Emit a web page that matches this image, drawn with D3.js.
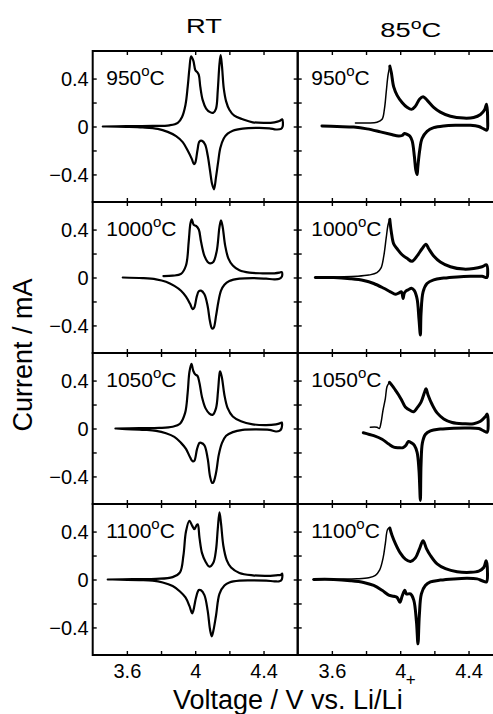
<!DOCTYPE html>
<html>
<head>
<meta charset="utf-8">
<script src="https://cdn.jsdelivr.net/npm/d3@7"></script>
<style>
  html, body { margin: 0; padding: 0; background: #fff; }
  svg { display: block; }
  text { font-family: "Liberation Sans", Arial, Helvetica, sans-serif; fill: #000; }
</style>
</head>
<body>
<svg id="chart" width="493" height="714"></svg>
<script>
// Cyclic voltammograms (current vs. voltage) for four annealing temperatures,
// measured at room temperature and at 85 °C.

const columns = ["RT", "85"];
const annealTemps = ["950", "1000", "1050", "1100"];

const voltTicks = [3.6, 3.8, 4.0, 4.2, 4.4];
const voltLabels = [3.6, 4.0, 4.4];
const currentTicks = [-0.4, -0.2, 0, 0.2, 0.4];
const currentLabels = [-0.4, 0, 0.4];

// ---- RT, 950 °C ----
const rt950Anodic = [[3.459,0],[3.595,0.003],[3.751,0.005],[3.849,0.01],[3.898,0.03],[3.923,0.08],[3.943,0.18],[3.956,0.33],[3.966,0.48],[3.976,0.585],[3.989,0.55],[4.001,0.47],[4.011,0.455],[4.021,0.43],[4.030,0.33],[4.044,0.22],[4.064,0.15],[4.087,0.12],[4.106,0.115],[4.122,0.15],[4.132,0.3],[4.142,0.52],[4.149,0.595],[4.157,0.5],[4.167,0.32],[4.181,0.21],[4.2,0.14],[4.229,0.09],[4.278,0.06],[4.337,0.035],[4.415,0.03],[4.464,0.035],[4.493,0.045],[4.509,0.06]];
const rt950Cathodic = [[4.512,0.0],[4.503,-0.02],[4.473,-0.025],[4.434,-0.015],[4.356,-0.012],[4.278,-0.018],[4.22,-0.035],[4.19,-0.06],[4.167,-0.1],[4.147,-0.18],[4.134,-0.3],[4.122,-0.42],[4.11,-0.524],[4.099,-0.48],[4.087,-0.37],[4.073,-0.24],[4.058,-0.15],[4.04,-0.12],[4.025,-0.125],[4.013,-0.2],[4.001,-0.3],[3.993,-0.315],[3.98,-0.27],[3.956,-0.2],[3.927,-0.13],[3.888,-0.08],[3.839,-0.045],[3.781,-0.02],[3.693,-0.008],[3.595,-0.003],[3.478,0]];

// ---- 85 °C, 950 °C ----
const ht950Anodic = [[3.738,0.03],[3.806,0.03],[3.864,0.035],[3.894,0.06],[3.908,0.15],[3.919,0.3],[3.929,0.43],[3.939,0.504],[3.948,0.45],[3.962,0.33],[3.982,0.26],[4.011,0.2],[4.04,0.16],[4.066,0.143],[4.089,0.17],[4.114,0.23],[4.134,0.248],[4.157,0.22],[4.196,0.16],[4.235,0.12],[4.294,0.085],[4.372,0.07],[4.43,0.075],[4.47,0.1],[4.494,0.14],[4.505,0.185]];
const ht950Cathodic = [[4.512,0.05],[4.508,-0.03],[4.489,-0.02],[4.46,0.0],[4.411,0.01],[4.333,0.01],[4.255,0.005],[4.196,-0.01],[4.157,-0.04],[4.128,-0.1],[4.114,-0.2],[4.103,-0.34],[4.099,-0.4],[4.091,-0.36],[4.083,-0.25],[4.07,-0.12],[4.056,-0.08],[4.04,-0.065],[4.025,-0.058],[4.011,-0.075],[3.991,-0.08],[3.943,-0.065],[3.884,-0.045],[3.806,-0.02],[3.728,-0.005],[3.63,0],[3.542,0.005]];

// ---- RT, 1000 °C ----
const rt1000Anodic = [[3.814,0.012],[3.868,0.015],[3.917,0.03],[3.946,0.1],[3.962,0.3],[3.972,0.45],[3.98,0.485],[3.991,0.44],[4.005,0.43],[4.021,0.4],[4.034,0.3],[4.054,0.18],[4.073,0.13],[4.087,0.118],[4.106,0.13],[4.126,0.22],[4.142,0.42],[4.151,0.476],[4.161,0.42],[4.175,0.27],[4.194,0.16],[4.22,0.1],[4.259,0.06],[4.317,0.04],[4.395,0.035],[4.464,0.035],[4.493,0.04],[4.507,0.045]];
const rt1000Cathodic = [[4.508,0.01],[4.493,-0.01],[4.464,-0.015],[4.415,-0.01],[4.337,-0.005],[4.259,-0.01],[4.2,-0.03],[4.171,-0.06],[4.151,-0.11],[4.136,-0.2],[4.122,-0.32],[4.108,-0.42],[4.099,-0.426],[4.087,-0.37],[4.073,-0.24],[4.054,-0.14],[4.034,-0.11],[4.021,-0.115],[4.009,-0.16],[3.995,-0.25],[3.985,-0.265],[3.97,-0.22],[3.946,-0.16],[3.917,-0.11],[3.878,-0.07],[3.829,-0.035],[3.771,-0.015],[3.693,-0.005],[3.576,0]];

// ---- 85 °C, 1000 °C ----
const ht1000Anodic = [[3.503,0.0],[3.63,0.005],[3.747,0.01],[3.816,0.02],[3.864,0.04],[3.888,0.08],[3.904,0.18],[3.918,0.33],[3.929,0.44],[3.939,0.485],[3.948,0.38],[3.962,0.28],[3.982,0.24],[4.011,0.19],[4.04,0.16],[4.069,0.135],[4.099,0.18],[4.128,0.24],[4.151,0.278],[4.167,0.24],[4.196,0.18],[4.235,0.13],[4.294,0.09],[4.372,0.07],[4.43,0.075],[4.479,0.09],[4.505,0.105]];
const ht1000Cathodic = [[4.512,0.03],[4.508,0.0],[4.479,0.01],[4.411,0.01],[4.333,0.005],[4.255,-0.005],[4.196,-0.02],[4.157,-0.05],[4.134,-0.12],[4.122,-0.3],[4.118,-0.48],[4.11,-0.35],[4.099,-0.18],[4.083,-0.11],[4.066,-0.09],[4.05,-0.1],[4.036,-0.11],[4.024,-0.13],[4.017,-0.175],[4.007,-0.12],[3.991,-0.13],[3.972,-0.14],[3.943,-0.12],[3.904,-0.09],[3.845,-0.05],[3.786,-0.025],[3.708,-0.01],[3.611,0],[3.503,0]];

// ---- RT, 1050 °C ----
const rt1050Anodic = [[3.533,0],[3.673,0.003],[3.79,0.005],[3.868,0.015],[3.911,0.04],[3.941,0.13],[3.956,0.3],[3.966,0.47],[3.978,0.54],[3.989,0.48],[4.001,0.45],[4.013,0.44],[4.025,0.38],[4.04,0.26],[4.06,0.17],[4.083,0.125],[4.103,0.115],[4.122,0.17],[4.134,0.32],[4.144,0.47],[4.147,0.476],[4.157,0.42],[4.171,0.28],[4.19,0.17],[4.22,0.1],[4.268,0.06],[4.337,0.035],[4.415,0.028],[4.473,0.035],[4.499,0.045],[4.507,0.05]];
const rt1050Cathodic = [[4.505,0.0],[4.493,-0.02],[4.473,-0.025],[4.434,-0.012],[4.356,-0.008],[4.278,-0.012],[4.22,-0.03],[4.181,-0.06],[4.157,-0.12],[4.138,-0.22],[4.122,-0.37],[4.106,-0.45],[4.099,-0.454],[4.087,-0.4],[4.073,-0.25],[4.054,-0.14],[4.034,-0.12],[4.025,-0.12],[4.011,-0.17],[3.995,-0.27],[3.985,-0.274],[3.97,-0.24],[3.946,-0.17],[3.917,-0.12],[3.878,-0.07],[3.829,-0.04],[3.771,-0.02],[3.712,-0.012],[3.673,-0.01],[3.595,-0.005],[3.537,0]];

// ---- 85 °C, 1050 °C ----
const ht1050Anodic = [[3.825,0.01],[3.864,0.01],[3.878,0.0],[3.888,0.05],[3.899,0.15],[3.913,0.25],[3.923,0.35],[3.937,0.385],[3.952,0.36],[3.972,0.32],[3.991,0.28],[4.011,0.23],[4.03,0.18],[4.06,0.15],[4.079,0.14],[4.103,0.18],[4.122,0.22],[4.142,0.3],[4.151,0.332],[4.163,0.28],[4.187,0.2],[4.216,0.13],[4.255,0.08],[4.304,0.05],[4.372,0.04],[4.43,0.04],[4.47,0.06],[4.499,0.1],[4.509,0.12]];
const ht1050Cathodic = [[4.515,0.03],[4.509,-0.03],[4.489,-0.02],[4.46,0.0],[4.392,0.005],[4.313,0.003],[4.235,-0.005],[4.177,-0.02],[4.147,-0.05],[4.13,-0.12],[4.122,-0.3],[4.118,-0.6],[4.11,-0.35],[4.099,-0.2],[4.083,-0.14],[4.066,-0.12],[4.048,-0.108],[4.034,-0.14],[4.017,-0.16],[3.991,-0.16],[3.962,-0.155],[3.933,-0.13],[3.894,-0.09],[3.845,-0.06],[3.784,-0.035]];

// ---- RT, 1100 °C ----
const rt1100Anodic = [[3.488,0],[3.634,0.003],[3.771,0.005],[3.868,0.02],[3.911,0.06],[3.931,0.2],[3.946,0.4],[3.966,0.49],[3.982,0.45],[3.995,0.42],[4.007,0.45],[4.015,0.46],[4.025,0.35],[4.04,0.22],[4.06,0.15],[4.083,0.107],[4.106,0.14],[4.122,0.25],[4.132,0.42],[4.142,0.56],[4.151,0.47],[4.165,0.28],[4.185,0.16],[4.21,0.1],[4.259,0.055],[4.337,0.035],[4.415,0.03],[4.473,0.035],[4.503,0.04],[4.509,0.05]];
const rt1100Cathodic = [[4.507,0.0],[4.493,-0.015],[4.464,-0.015],[4.415,-0.01],[4.337,-0.008],[4.259,-0.01],[4.2,-0.025],[4.171,-0.05],[4.142,-0.12],[4.122,-0.3],[4.106,-0.43],[4.097,-0.474],[4.087,-0.42],[4.073,-0.26],[4.054,-0.13],[4.034,-0.09],[4.021,-0.088],[4.005,-0.15],[3.989,-0.26],[3.982,-0.282],[3.966,-0.22],[3.943,-0.15],[3.911,-0.1],[3.868,-0.055],[3.81,-0.025],[3.751,-0.01],[3.673,-0.005],[3.517,0]];

// ---- 85 °C, 1100 °C ----
const ht1100Anodic = [[3.49,0],[3.63,0.003],[3.747,0.006],[3.816,0.015],[3.855,0.035],[3.88,0.08],[3.9,0.18],[3.913,0.3],[3.927,0.42],[3.939,0.43],[3.952,0.37],[3.972,0.3],[4.001,0.22],[4.03,0.17],[4.06,0.15],[4.089,0.18],[4.114,0.26],[4.134,0.324],[4.153,0.26],[4.177,0.2],[4.216,0.13],[4.265,0.09],[4.333,0.065],[4.411,0.06],[4.46,0.07],[4.489,0.1],[4.503,0.157]];
const ht1100Cathodic = [[4.511,0.05],[4.505,-0.02],[4.48,-0.01],[4.45,0.005],[4.392,0.01],[4.313,0.005],[4.235,-0.005],[4.177,-0.02],[4.147,-0.05],[4.124,-0.12],[4.112,-0.3],[4.104,-0.537],[4.095,-0.35],[4.079,-0.17],[4.06,-0.12],[4.036,-0.12],[4.027,-0.09],[4.011,-0.14],[3.998,-0.19],[3.982,-0.15],[3.962,-0.14],[3.933,-0.13],[3.894,-0.09],[3.845,-0.05],[3.786,-0.025],[3.708,-0.01],[3.611,0],[3.494,0]];

const curves = [
  [[rt950Anodic, rt950Cathodic], [ht950Anodic, ht950Cathodic]],
  [[rt1000Anodic, rt1000Cathodic], [ht1000Anodic, ht1000Cathodic]],
  [[rt1050Anodic, rt1050Cathodic], [ht1050Anodic, ht1050Cathodic]],
  [[rt1100Anodic, rt1100Cathodic], [ht1100Anodic, ht1100Cathodic]]
];

// ---- layout ----
const svg = d3.select("#chart");
const panelW = 205, panelH = 151;
const left0 = 92.7, top0 = 51;

const x = d3.scaleLinear().domain([3.4, 4.6]).range([0, panelW]);
const y = d3.scaleLinear().domain([-0.63, 0.63]).range([panelH, 0]);

const line = d3.line()
  .x(d => x(d[0]))
  .y(d => y(d[1]))
  .curve(d3.curveCatmullRom.alpha(0.5));

const fmtV = d => String(+d.toFixed(1));
const fmtI = d => (d < 0 ? "\u2212" : "") + String(Math.abs(d));

const defs = svg.append("defs");

curves.forEach((rowCurves, r) => {
  rowCurves.forEach(([anodic, cathodic], c) => {
    const px = left0 + c * panelW, py = top0 + r * panelH;
    const g = svg.append("g").attr("transform", `translate(${px},${py})`);
    const clipId = `clip-${r}-${c}`;
    defs.append("clipPath").attr("id", clipId)
      .append("rect").attr("width", panelW).attr("height", panelH);

    const plot = g.append("g").attr("clip-path", `url(#${clipId})`);
    const common = s => s.attr("fill", "none").attr("stroke", "#000")
      .attr("stroke-linejoin", "round").attr("stroke-linecap", "round");

    if (c === 0) {
      plot.append("path").datum(anodic.concat(cathodic)).attr("d", line)
        .call(common).attr("stroke-width", 2.2);
    } else {
      // several overlapping cycles at 85 °C: the rising edge is thin, the rest heavier
      const peakIdx = d3.maxIndex(anodic, d => d[1]);
      plot.append("path").datum(anodic.slice(0, peakIdx + 1)).attr("d", line)
        .call(common).attr("stroke-width", 1.5);
      plot.append("path").datum(anodic.slice(peakIdx).concat(cathodic)).attr("d", line)
        .call(common).attr("stroke-width", 3);
    }

    // inside ticks on all four sides
    const ax = g.append("g");
    ax.append("g").call(d3.axisBottom(x).tickValues(voltTicks).tickSize(4).tickFormat(""))
      .attr("transform", `translate(0,${panelH - 4})`);
    ax.append("g").call(d3.axisTop(x).tickValues(voltTicks).tickSize(4).tickFormat(""))
      .attr("transform", `translate(0,4)`);
    ax.append("g").call(d3.axisLeft(y).tickValues(currentTicks).tickSize(-4).tickFormat(""));
    ax.append("g").call(d3.axisRight(y).tickValues(currentTicks).tickSize(-4).tickFormat(""))
      .attr("transform", `translate(${panelW},0)`);
    ax.selectAll(".domain").remove();
    ax.selectAll(".tick line").attr("stroke", "#000").attr("stroke-width", 1.4);

    // frame
    g.append("rect").attr("width", panelW).attr("height", panelH)
      .attr("fill", "none").attr("stroke", "#000").attr("stroke-width", 2);

    // annealing temperature label
    const lab = g.append("text").attr("x", 13.5).attr("y", 33.5).attr("font-size", 21);
    lab.append("tspan").text(annealTemps[r]);
    lab.append("tspan").attr("font-size", 15).attr("dy", -8.5).text("o");
    lab.append("tspan").attr("dy", 8.5).text("C");

    // current tick labels, left column only
    if (c === 0) {
      const yl = g.append("g").call(d3.axisLeft(y).tickValues(currentLabels).tickSize(0).tickPadding(4).tickFormat(fmtI));
      yl.select(".domain").remove();
      yl.selectAll("text").attr("font-size", 20).attr("font-family", null).attr("fill", "#000")
        .attr("dy", "0.35em");
    }

    // voltage tick labels, bottom row only
    if (r === curves.length - 1) {
      const xl = g.append("g").attr("transform", `translate(0,${panelH})`)
        .call(d3.axisBottom(x).tickValues(voltLabels).tickSize(0).tickPadding(9).tickFormat(fmtV));
      xl.select(".domain").remove();
      xl.selectAll("text").attr("font-size", 20).attr("font-family", null).attr("fill", "#000");
    }
  });
});

// column titles
svg.append("text").attr("transform", "translate(204,33.3) scale(1.3,1)")
  .attr("text-anchor", "middle").attr("font-size", 21).text(columns[0]);
const t85 = svg.append("text").attr("transform", "translate(410.8,37.3) scale(1.3,1)")
  .attr("text-anchor", "middle").attr("font-size", 21);
t85.append("tspan").text(columns[1]);
t85.append("tspan").attr("font-size", 15).attr("dy", -8.5).text("o");
t85.append("tspan").attr("dy", 8.5).text("C");

// axis titles
svg.append("text").attr("transform", "translate(32,355) rotate(-90)")
  .attr("text-anchor", "middle").attr("font-size", 27).text("Current / mA");
const xt = svg.append("text").attr("x", 173).attr("y", 708.5).attr("font-size", 27);
xt.append("tspan").text("Voltage / V vs. Li/Li");
xt.append("tspan").attr("font-size", 17).attr("dx", 3).attr("dy", -24).text("+");
</script>
</body>
</html>
